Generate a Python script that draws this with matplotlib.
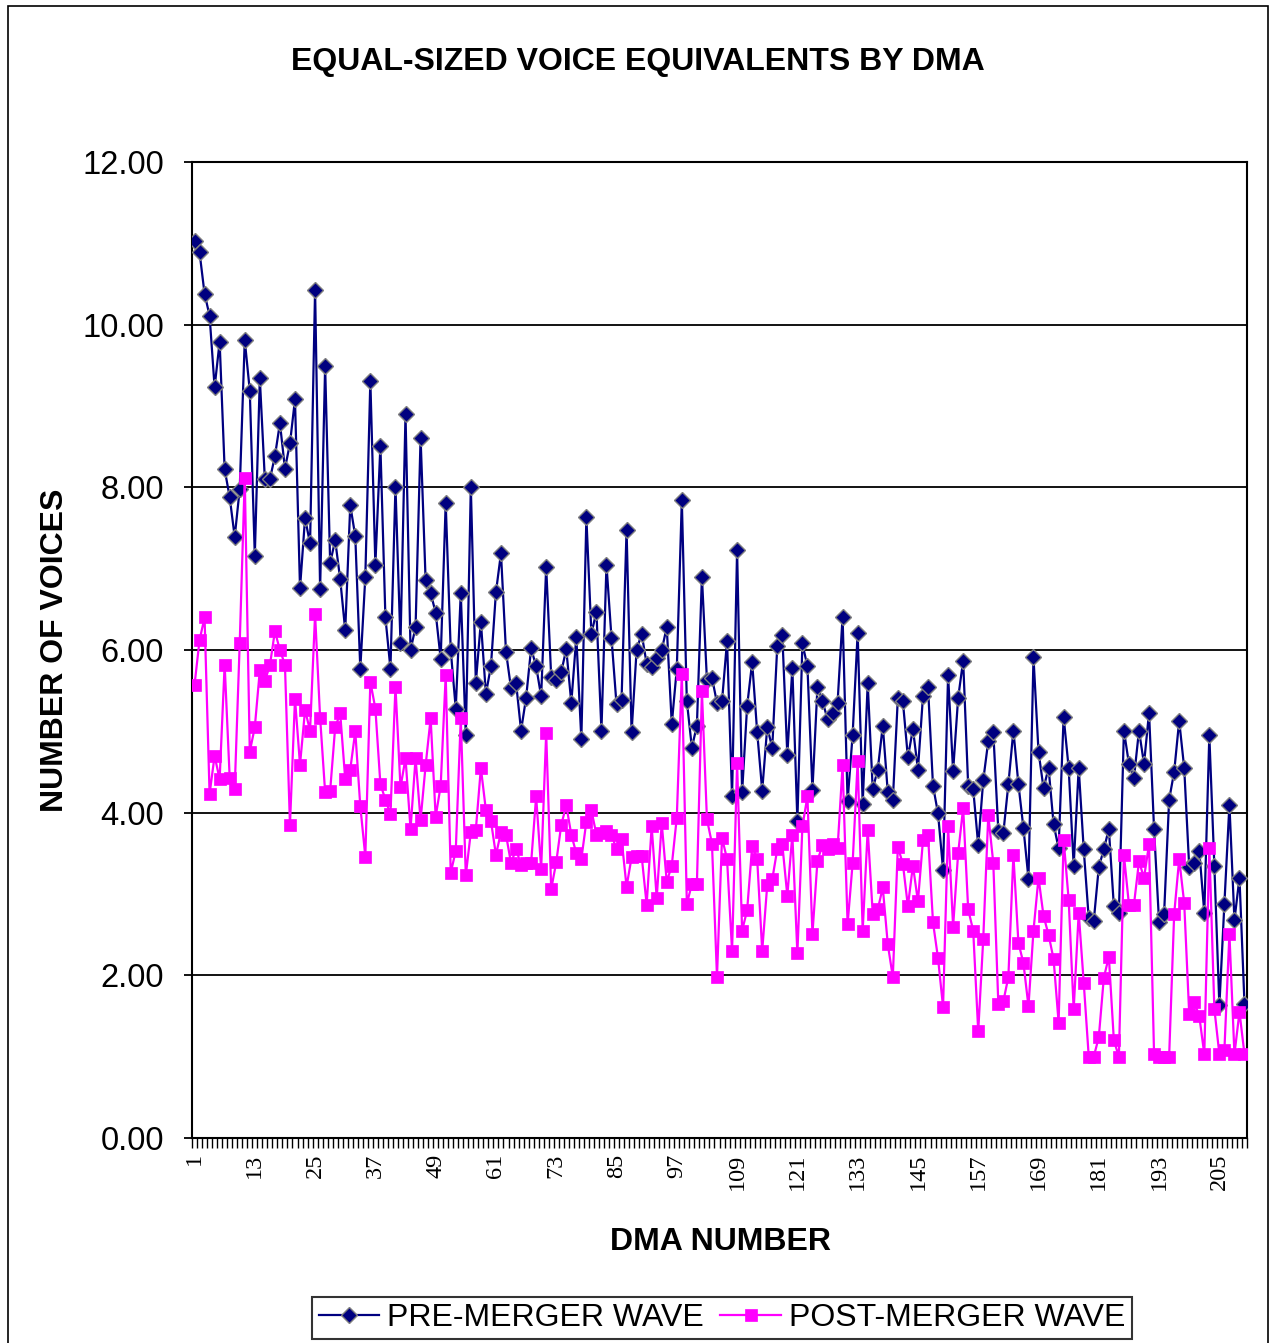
import matplotlib
matplotlib.use("Agg")
import matplotlib.pyplot as plt
from matplotlib.patches import Rectangle
from matplotlib.ticker import FixedLocator, NullFormatter
import numpy as np

# Equal-sized voice equivalents for each DMA (1..210)
pre_merger = [
    11.03, 10.89, 10.38, 10.11, 9.23, 9.79, 8.22, 7.88, 7.39, 7.98,
    9.81, 9.19, 7.16, 9.34, 8.10, 8.10, 8.38, 8.79, 8.23, 8.54,
    9.08, 6.76, 7.62, 7.31, 10.43, 6.75, 9.49, 7.07, 7.35, 6.87,
    6.24, 7.78, 7.40, 5.77, 6.90, 9.31, 7.05, 8.51, 6.40, 5.77,
    8.01, 6.09, 8.90, 6.00, 6.28, 8.61, 6.86, 6.70, 6.46, 5.89,
    7.81, 6.00, 5.28, 6.70, 4.95, 8.01, 5.60, 6.35, 5.46, 5.80,
    6.71, 7.19, 5.98, 5.53, 5.60, 5.01, 5.41, 6.02, 5.80, 5.43,
    7.02, 5.67, 5.63, 5.73, 6.01, 5.35, 6.16, 4.90, 7.63, 6.20,
    6.47, 5.01, 7.05, 6.15, 5.33, 5.38, 7.48, 4.99, 6.00, 6.20,
    5.83, 5.79, 5.90, 6.00, 6.28, 5.09, 5.77, 7.84, 5.37, 4.80,
    5.07, 6.90, 5.63, 5.66, 5.35, 5.37, 6.11, 4.20, 7.23, 4.25,
    5.31, 5.85, 4.99, 4.27, 5.05, 4.80, 6.05, 6.19, 4.71, 5.78,
    3.90, 6.08, 5.80, 4.28, 5.55, 5.37, 5.15, 5.23, 5.35, 6.41,
    4.14, 4.96, 6.21, 4.11, 5.59, 4.29, 4.53, 5.07, 4.25, 4.15,
    5.41, 5.37, 4.68, 5.03, 4.53, 5.43, 5.55, 4.33, 3.99, 3.30,
    5.69, 4.51, 5.41, 5.87, 4.33, 4.29, 3.60, 4.40, 4.88, 4.99,
    3.78, 3.75, 4.35, 5.01, 4.35, 3.81, 3.19, 5.91, 4.75, 4.30,
    4.55, 3.86, 3.56, 5.18, 4.55, 3.35, 4.55, 3.55, 2.70, 2.67,
    3.33, 3.55, 3.80, 2.85, 2.77, 5.01, 4.60, 4.43, 5.01, 4.60,
    5.23, 3.80, 2.65, 2.76, 4.16, 4.50, 5.13, 4.55, 3.33, 3.38,
    3.53, 2.77, 4.95, 3.35, 1.63, 2.88, 4.10, 2.68, 3.20, 1.65,
]

post_merger = [
    5.57, 6.12, 6.40, 4.23, 4.70, 4.41, 5.82, 4.43, 4.29, 6.09,
    8.12, 4.75, 5.05, 5.75, 5.62, 5.81, 6.23, 6.00, 5.82, 3.85,
    5.40, 4.59, 5.26, 5.01, 6.44, 5.17, 4.25, 4.27, 5.05, 5.22,
    4.41, 4.53, 5.00, 4.08, 3.46, 5.61, 5.28, 4.35, 4.16, 3.98,
    5.55, 4.31, 4.67, 3.80, 4.67, 3.91, 4.58, 5.16, 3.95, 4.33,
    5.69, 3.26, 3.53, 5.16, 3.23, 3.76, 3.79, 4.55, 4.03, 3.90,
    3.48, 3.76, 3.73, 3.38, 3.55, 3.36, 3.38, 3.38, 4.20, 3.31,
    4.98, 3.06, 3.39, 3.85, 4.09, 3.73, 3.50, 3.43, 3.89, 4.03,
    3.73, 3.75, 3.77, 3.73, 3.55, 3.68, 3.09, 3.45, 3.47, 3.47,
    2.87, 3.83, 2.95, 3.87, 3.15, 3.35, 3.94, 5.71, 2.88, 3.12,
    3.12, 5.49, 3.92, 3.62, 1.98, 3.69, 3.43, 2.30, 4.61, 2.55,
    2.80, 3.59, 3.43, 2.30, 3.11, 3.18, 3.55, 3.61, 2.98, 3.73,
    2.27, 3.83, 4.20, 2.51, 3.41, 3.60, 3.55, 3.61, 3.56, 4.58,
    2.63, 3.38, 4.63, 2.55, 3.79, 2.76, 2.81, 3.08, 2.38, 1.98,
    3.58, 3.37, 2.85, 3.35, 2.91, 3.66, 3.73, 2.65, 2.21, 1.61,
    3.83, 2.60, 3.50, 4.06, 2.81, 2.55, 1.31, 2.45, 3.97, 3.38,
    1.65, 1.68, 1.98, 3.48, 2.40, 2.15, 1.62, 2.55, 3.20, 2.73,
    2.50, 2.20, 1.42, 3.67, 2.93, 1.58, 2.77, 1.91, 1.00, 1.00,
    1.24, 1.97, 2.23, 1.20, 1.00, 3.48, 2.87, 2.87, 3.40, 3.20,
    3.61, 1.03, 1.00, 1.00, 1.00, 2.75, 3.43, 2.89, 1.52, 1.67,
    1.50, 1.03, 3.57, 1.59, 1.03, 1.08, 2.51, 1.03, 1.55, 1.03,
]

dma_numbers = list(range(1, len(pre_merger) + 1))
labeled_dmas = list(range(1, 206, 12))
y_ticks = [0, 2, 4, 6, 8, 10, 12]

W, H = 1272, 1343
fig = plt.figure(figsize=(W / 100, H / 100), dpi=100)
fig.patch.set_facecolor("white")

# outer chart border
fig.add_artist(Rectangle((8 / W, -0.01), (1268 - 8) / W, 1 - 6 / H + 0.01,
                         transform=fig.transFigure, fill=False,
                         edgecolor="black", linewidth=1.2))

left, right, top, bottom = 192, 1247, 162, 1138
ax = fig.add_axes([left / W, 1 - bottom / H, (right - left) / W, (bottom - top) / H])

sans = "Liberation Sans"
serif = "Liberation Serif"

ax.plot(dma_numbers, pre_merger, color="#000080", linewidth=1.6,
        marker="D", markersize=8, markerfacecolor="#000080",
        markeredgecolor="#808080", markeredgewidth=1.0,
        label="PRE-MERGER WAVE", zorder=3)
ax.plot(dma_numbers, post_merger, color="#FF00FF", linewidth=1.6,
        marker="s", markersize=9, markerfacecolor="#FF00FF",
        markeredgecolor="#FF00FF", markeredgewidth=0.5,
        label="POST-MERGER WAVE", zorder=4)

n = len(dma_numbers)
ax.set_xlim(0.5, n + 0.5)
ax.set_ylim(0, 12)

ax.set_yticks(y_ticks)
ax.set_yticklabels([f"{v:.2f}" for v in y_ticks], fontfamily=sans, fontsize=23.5)
ax.yaxis.grid(True, color="black", linewidth=1.3)
ax.set_axisbelow(True)

ax.set_xticks(labeled_dmas)
ax.set_xticklabels([str(v) for v in labeled_dmas], rotation=90,
                   fontfamily=serif, fontsize=17.5)
ax.xaxis.set_minor_locator(FixedLocator(np.arange(0.5, n + 1, 1.0)))
ax.xaxis.set_minor_formatter(NullFormatter())
ax.tick_params(axis="x", which="major", length=0, pad=11)
ax.tick_params(axis="x", which="minor", length=7, width=1.0, color="black")
ax.tick_params(axis="y", which="major", length=6, width=1.3, pad=14)

for s in ax.spines.values():
    s.set_color("black")
    s.set_linewidth(1.5)

fig.text(638 / W, 1 - 62 / H, "EQUAL-SIZED VOICE EQUIVALENTS BY DMA",
         ha="center", va="center", fontfamily=sans, fontsize=23, fontweight="bold")
fig.text(720 / W, 1 - 1242 / H, "DMA NUMBER", ha="center", va="center",
         fontfamily=sans, fontsize=23, fontweight="bold")
fig.text(55 / W, 1 - 650 / H, "NUMBER OF VOICES", ha="center", va="center",
         rotation=90, fontfamily=sans, fontsize=23, fontweight="bold")

leg = fig.legend(loc="center", bbox_to_anchor=(722 / W, 1 - 1318 / H), ncol=2,
                 prop={"family": sans, "size": 23}, frameon=True, fancybox=False,
                 edgecolor="black", handlelength=1.9, columnspacing=0.5,
                 handletextpad=0.25, borderpad=0.2, borderaxespad=0.0)
leg.get_frame().set_linewidth(1.5)

fig.savefig("out.png", dpi=100, facecolor="white")
